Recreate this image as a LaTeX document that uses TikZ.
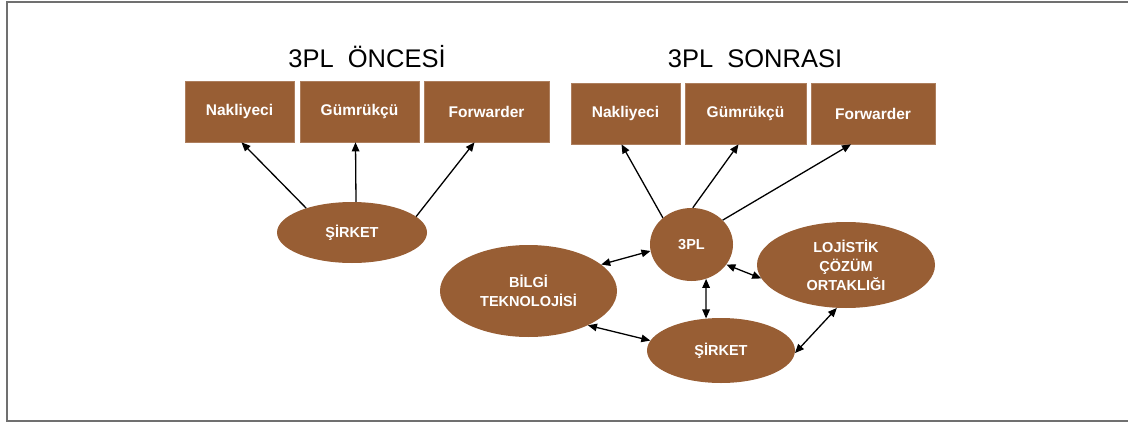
\documentclass[tikz,border=0pt]{standalone}
\usepackage{fontspec}
\setmainfont{Liberation Sans}
\usetikzlibrary{shapes.geometric,arrows.meta}
\definecolor{brownfill}{RGB}{152,94,52}
\definecolor{framegray}{RGB}{112,112,112}
\tikzset{
  box/.style={rectangle, fill=brownfill, draw=brownfill!80!white, line width=0.6pt,
    inner sep=0pt, minimum height=61pt, text=white,
    font=\fontsize{15.5}{18}\selectfont\bfseries},
  oval/.style={ellipse, fill=brownfill, inner sep=0pt, text=white, align=center,
    font=\fontsize{14.5}{19}\selectfont\bfseries},
  title/.style={anchor=base, font=\fontsize{25.5}{30}\selectfont},
  link/.style={line width=1.3pt, -{Triangle[length=9pt,width=7.5pt]}},
  dbl/.style={line width=1.3pt, {Triangle[length=9pt,width=7.5pt]}-{Triangle[length=9pt,width=7.5pt]}}
}
\begin{document}
\begin{tikzpicture}[x=1pt,y=-1pt]
\useasboundingbox (0,0) rectangle (1128,423);
% outer frame (open on the right)
\draw[framegray, line width=2pt] (1128,1.5) -- (7,1.5) -- (7,421) -- (1128,421);

% ---- before 3PL ----
\node[title] (t1) at (367,67) {3PL\ \ ÖNCESİ};
\node[box, minimum width=109pt] (n1) at (239.5,111.5) {Nakliyeci};
\node[box, minimum width=119pt] (g1) at (359.5,111.5) {Gümrükçü};
\node[box, minimum width=125pt] (f1) at (486.5,111.5) {Forwarder};
\node[oval, minimum width=150pt, minimum height=61pt] (s1) at (352,232.5) {ŞİRKET};

\draw[link] (s1.152) -- ([xshift=2pt]n1.south);
\draw[link] ([xshift=4pt]s1.north) -- ([xshift=-4pt]g1.south);
\draw[link] (s1.14) -- ([xshift=-12pt]f1.south);

% ---- after 3PL ----
\node[title] (t2) at (755,67) {3PL\ \ SONRASI};
\node[box, minimum width=109pt] (n2) at (625.5,113.5) {Nakliyeci};
\node[box, minimum width=121pt] (g2) at (745.5,113.5) {Gümrükçü};
\node[box, minimum width=124pt] (f2) at (873,113.5) {Forwarder};

\node[oval, minimum width=83pt, minimum height=73pt] (tpl) at (691.5,244.5) {3PL};
\node[oval, minimum width=178pt, minimum height=86pt] (loj) at (846,265) {LOJİSTİK\\ÇÖZÜM\\ORTAKLIĞI};
\node[oval, minimum width=177pt, minimum height=92pt] (bil) at (528.5,291) {BİLGİ\\TEKNOLOJİSİ};
\node[oval, minimum width=148pt, minimum height=65pt] (s2) at (721,350.5) {ŞİRKET};

\draw[link] (tpl.137) -- ([xshift=-4pt]n2.south);
\draw[link] (tpl.88) -- ([xshift=-7pt]g2.south);
\draw[link] (tpl.38) -- ([xshift=-22pt]f2.south);

\draw[dbl] (bil.20) -- (tpl.189);
\draw[dbl] (tpl.-30) -- (loj.189);
\draw[dbl] (tpl.-67) -- (s2.115);
\draw[dbl] (bil.-30) -- (s2.172);
\draw[dbl] (s2.-2) -- (loj.258);
\end{tikzpicture}
\end{document}
